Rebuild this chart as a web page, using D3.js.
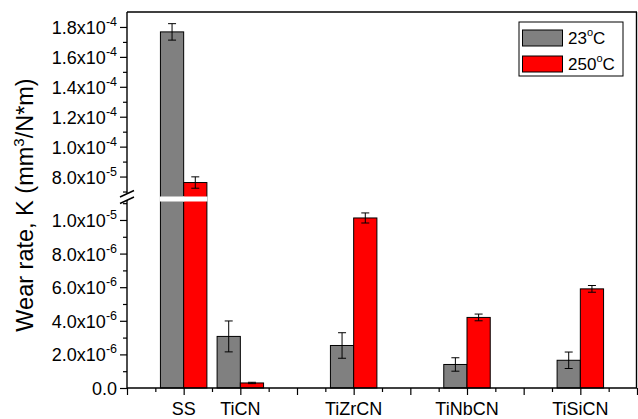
<!DOCTYPE html>
<html><head><meta charset="utf-8">
<script src="https://cdn.jsdelivr.net/npm/d3@7"></script>
<style>
html,body{margin:0;padding:0;background:#fff;}
svg{display:block;font-family:"Liberation Sans",Arial,sans-serif;}
</style></head>
<body><svg id="c" width="638" height="419"></svg>
<script>
const categories = ["SS","TiCN","TiZrCN","TiNbCN","TiSiCN"];
const positions = [1,2,4,6,8];
const seriesNames = ["23","250"];
const values23 = [1.767e-4, 3.07e-6, 2.53e-6, 1.40e-6, 1.65e-6];
const err23 = [5.5e-6, 0.92e-6, 0.76e-6, 0.40e-6, 0.49e-6];
const values250 = [7.6e-5, 0.30e-6, 10.12e-6, 4.2e-6, 5.9e-6];
const err250 = [3.8e-6, 0.04e-6, 0.3e-6, 0.2e-6, 0.2e-6];
const upperTicks = [8e-5,1.0e-4,1.2e-4,1.4e-4,1.6e-4,1.8e-4];
const upperTickLabels = [["8.0x10","-5"],["1.0x10","-4"],["1.2x10","-4"],["1.4x10","-4"],["1.6x10","-4"],["1.8x10","-4"]];
const upperMinor = [7e-5,9e-5,1.1e-4,1.3e-4,1.5e-4,1.7e-4];
const lowerTicks = [0,2e-6,4e-6,6e-6,8e-6,1.0e-5];
const lowerTickLabels = [["0.0",""],["2.0x10","-6"],["4.0x10","-6"],["6.0x10","-6"],["8.0x10","-6"],["1.0x10","-5"]];
const lowerMinor = [1e-6,3e-6,5e-6,7e-6,9e-6,1.1e-5];
const colors = ["#808080","#ff0000"];

const svg = d3.select("#c");
const L=127, R=637, T=12, B=388;
const breakTop=196.5, breakBot=201.5;
const x = d3.scaleLinear().domain([0,9]).range([L,R]);
const yLow = d3.scaleLinear().domain([0,1.11e-5]).range([B,breakBot]);
const yHigh = d3.scaleLinear().domain([6.6667e-5,1.9e-4]).range([breakTop,T]);
const yv = v => v <= 1.11e-5 ? yLow(v) : yHigh(v);
const bw = 0.41;

// bars
const data = [];
categories.forEach((c,i)=>{
  data.push({s:0,pos:positions[i],v:values23[i],e:err23[i]});
  data.push({s:1,pos:positions[i],v:values250[i],e:err250[i]});
});
const g = svg.append("g");
g.selectAll("rect.bar").data(data).join("rect").attr("class","bar")
  .attr("x",d=>d.s===0?x(d.pos-bw):x(d.pos))
  .attr("width",x(bw)-x(0))
  .attr("y",d=>yv(d.v))
  .attr("height",d=>B-yv(d.v))
  .attr("fill",d=>colors[d.s]).attr("stroke","#000").attr("stroke-width",1);
// break gap over tall bars
g.selectAll("rect.gap").data(data.filter(d=>d.v>1.11e-5)).join("rect").attr("class","gap")
  .attr("x",d=>(d.s===0?x(d.pos-bw):x(d.pos))-0.6)
  .attr("width",x(bw)-x(0)+1.2)
  .attr("y",breakTop).attr("height",breakBot-breakTop).attr("fill","#fff");
// error bars
const eg = g.selectAll("g.err").data(data).join("g").attr("class","err")
  .attr("stroke","#000").attr("stroke-width",1);
const cx = d=> d.s===0? x(d.pos-bw/2) : x(d.pos+bw/2);
eg.append("line").attr("x1",cx).attr("x2",cx).attr("y1",d=>yv(d.v+d.e)).attr("y2",d=>yv(d.v-d.e));
eg.append("line").attr("x1",d=>cx(d)-4).attr("x2",d=>cx(d)+4).attr("y1",d=>yv(d.v+d.e)).attr("y2",d=>yv(d.v+d.e));
eg.append("line").attr("x1",d=>cx(d)-4).attr("x2",d=>cx(d)+4).attr("y1",d=>yv(d.v-d.e)).attr("y2",d=>yv(d.v-d.e));

// axes
function leftAxis(scale, ticks, labels, minor){
  const a = svg.append("g").attr("transform",`translate(${L},0)`);
  a.call(d3.axisLeft(scale).tickValues(ticks).tickSize(7).tickFormat(""));
  a.select(".domain").remove();
  a.selectAll(".tick line").attr("stroke-width",1.2);
  const m = svg.append("g").attr("transform",`translate(${L},0)`);
  m.call(d3.axisLeft(scale).tickValues(minor).tickSize(4).tickFormat(""));
  m.select(".domain").remove();
  m.selectAll(".tick line").attr("stroke-width",1.2);
  a.selectAll(".tick").each(function(d,i){
    const t = d3.select(this).append("text").attr("x",-10).attr("y",6.5)
      .attr("text-anchor","end").attr("fill","#000").attr("font-size",18);
    t.append("tspan").text(labels[i][0]);
    if(labels[i][1]) t.append("tspan").attr("dy",-8).attr("font-size",12.5).text(labels[i][1]);
  });
}
leftAxis(yHigh, upperTicks, upperTickLabels, upperMinor);
leftAxis(yLow, lowerTicks, lowerTickLabels, lowerMinor);

const bx = svg.append("g").attr("transform",`translate(0,${B})`);
bx.call(d3.axisBottom(x).tickValues(d3.range(0,10)).tickSize(7).tickFormat(""));
bx.select(".domain").remove();
bx.selectAll(".tick line").attr("stroke-width",1.2);
const bm = svg.append("g").attr("transform",`translate(0,${B})`);
bm.call(d3.axisBottom(x).tickValues(d3.range(0.5,9,1)).tickSize(4).tickFormat(""));
bm.select(".domain").remove();
bm.selectAll(".tick line").attr("stroke-width",1.2);
svg.append("g").selectAll("text").data(categories).join("text")
  .attr("x",(d,i)=>x(positions[i])).attr("y",415).attr("text-anchor","middle")
  .attr("font-size",18).text(d=>d);

// frame
const fr = svg.append("g").attr("stroke","#000").attr("stroke-width",1.4).attr("fill","none");
fr.append("line").attr("x1",L).attr("x2",R).attr("y1",T).attr("y2",T);
fr.append("line").attr("x1",R-0.5).attr("x2",R-0.5).attr("y1",T).attr("y2",B);
fr.append("line").attr("x1",L).attr("x2",R).attr("y1",B).attr("y2",B);
fr.append("line").attr("x1",L).attr("x2",L).attr("y1",T).attr("y2",193.5);
fr.append("line").attr("x1",L).attr("x2",L).attr("y1",200).attr("y2",B);
// break marks
fr.append("line").attr("x1",120).attr("x2",134).attr("y1",197).attr("y2",190.5);
fr.append("line").attr("x1",120).attr("x2",134).attr("y1",203.5).attr("y2",197);

// y title
const yt = svg.append("text").attr("transform","translate(33,205) rotate(-90)")
  .attr("text-anchor","middle").attr("font-size",23.5);
yt.append("tspan").text("Wear rate, K (mm");
yt.append("tspan").attr("dy",-9).attr("font-size",15).text("3");
yt.append("tspan").attr("dy",9).text("/N*m)");

// legend
const lg = svg.append("g");
lg.append("rect").attr("x",519).attr("y",22).attr("width",104).attr("height",54)
  .attr("fill","#fff").attr("stroke","#000").attr("stroke-width",1);
seriesNames.forEach((s,i)=>{
  lg.append("rect").attr("x",522.5).attr("y",30+i*26).attr("width",40).attr("height",16)
    .attr("fill",colors[i]).attr("stroke","#000").attr("stroke-width",1);
  const t = lg.append("text").attr("x",568).attr("y",44+i*26).attr("font-size",17);
  t.append("tspan").text(s);
  t.append("tspan").attr("dy",-8).attr("font-size",11).text("o");
  t.append("tspan").attr("dy",8).text("C");
});
</script></body></html>
